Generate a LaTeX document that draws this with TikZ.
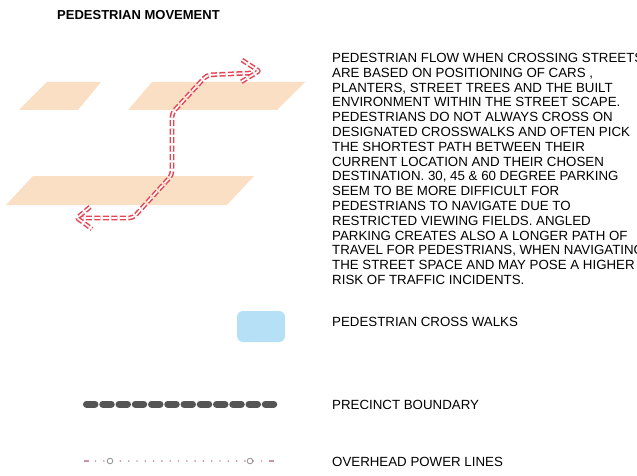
\documentclass[tikz,border=0pt]{standalone}
\usepackage{fontspec}
\setmainfont{Liberation Sans}
\definecolor{street}{RGB}{250,223,196}
\definecolor{pathred}{RGB}{230,68,84}
\definecolor{walkblue}{RGB}{182,224,245}
\definecolor{boundgray}{RGB}{85,85,85}
\definecolor{powerpink}{RGB}{200,150,160}
\tikzset{
  streetshape/.style={fill=street, draw=none},
  pedpath/.style={draw=pathred, line width=1.5pt, double=white, double distance=1.7pt,
     dash pattern=on 6pt off 2.5pt, rounded corners=4pt, line cap=butt, line join=round},
  bodytext/.style={inner sep=0pt, align=left, font=\fontsize{13.3}{14.8}\selectfont},
  legendtext/.style={inner sep=0pt, anchor=west, font=\fontsize{13.3}{14.8}\selectfont},
}
\begin{document}
\begin{tikzpicture}[x=1pt,y=-1pt]
\useasboundingbox (0,0) rectangle (637,476);
% title
\node[inner sep=0pt, anchor=west, font=\fontsize{13}{14}\selectfont\bfseries] (title) at (57,15) {PEDESTRIAN MOVEMENT};
% streets
\fill[streetshape] (47,82) -- (101,82) -- (78,110) -- (19,110) -- cycle;
\fill[streetshape] (152,82) -- (305,82) -- (277,110) -- (128,110) -- cycle;
\fill[streetshape] (33,176) -- (254,176) -- (227,205) -- (6,205) -- cycle;
% pedestrian path
\coordinate (pa) at (251,73);
\coordinate (pb) at (207,75);
\coordinate (pc) at (172,113);
\coordinate (pd) at (172,175);
\coordinate (pe) at (133,218);
\coordinate (pf) at (81,218);
\draw[pedpath] (pa) -- (pb) -- (pc) -- (pd) -- (pe) -- (pf);
\coordinate (rt) at (259,71);
\coordinate (ra1) at (242,60);
\coordinate (ra2) at (241,82);
\draw[pedpath, rounded corners=1pt] (ra1) -- (rt) -- (ra2);
\coordinate (lt) at (77,218);
\coordinate (la1) at (90,207);
\coordinate (la2) at (92,229);
\draw[pedpath, rounded corners=1pt] (la1) -- (lt) -- (la2);
% description
\node[bodytext, anchor=north west] (desc) at (332,53) {PEDESTRIAN FLOW WHEN CROSSING STREETS\\
ARE BASED ON POSITIONING OF CARS ,\\
PLANTERS, STREET TREES AND THE BUILT\\
ENVIRONMENT WITHIN THE STREET SCAPE.\\
PEDESTRIANS DO NOT ALWAYS CROSS ON\\
DESIGNATED CROSSWALKS AND OFTEN PICK\\
THE SHORTEST PATH BETWEEN THEIR\\
CURRENT LOCATION AND THEIR CHOSEN\\
DESTINATION. 30, 45 \& 60 DEGREE PARKING\\
SEEM TO BE MORE DIFFICULT FOR\\
PEDESTRIANS TO NAVIGATE DUE TO\\
RESTRICTED VIEWING FIELDS. ANGLED\\
PARKING CREATES ALSO A LONGER PATH OF\\
TRAVEL FOR PEDESTRIANS, WHEN NAVIGATING\\
THE STREET SPACE AND MAY POSE A HIGHER\\
RISK OF TRAFFIC INCIDENTS.};
% legend: cross walks
\fill[walkblue, rounded corners=6pt] (237,311) rectangle (285,342);
\node[legendtext] (lcross) at (332,322) {PEDESTRIAN CROSS WALKS};
% legend: precinct boundary
\draw[boundgray, line width=7pt, line cap=round, dash pattern=on 8.5pt off 7.75pt] (86.5,404) -- (276,404);
\node[legendtext] (lbound) at (332,405) {PRECINCT BOUNDARY};
% legend: power lines
\draw[powerpink, line width=1.3pt] (84,461) -- (89,461);
\draw[powerpink, line width=1.3pt] (269,461) -- (274,461);
\draw[powerpink, line width=1.9pt, line cap=round, dash pattern=on 0pt off 8.3pt] (95.5,461) -- (266,461);
\draw[gray!80, line width=0.9pt, fill=white] (110,461) circle (2.8);
\draw[gray!80, line width=0.9pt, fill=white] (250,461) circle (2.8);
\node[legendtext] (lpower) at (332,462) {OVERHEAD POWER LINES};
\end{tikzpicture}
\end{document}
